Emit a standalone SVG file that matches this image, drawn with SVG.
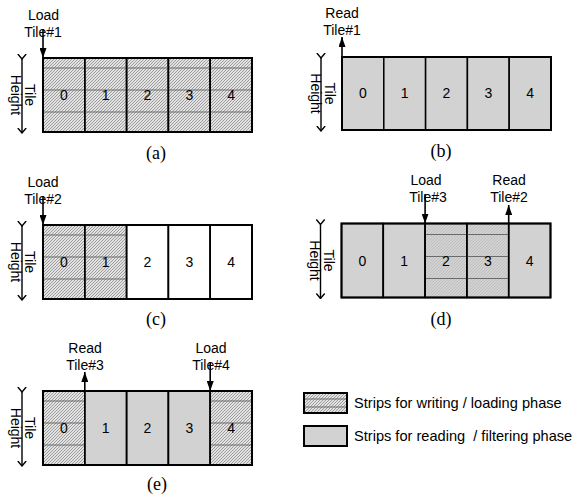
<svg xmlns="http://www.w3.org/2000/svg" width="574" height="500" viewBox="0 0 574 500">
  <defs>
    <!-- fine diagonal hatching used for strips being written / loaded -->
    <pattern id="hatch" patternUnits="userSpaceOnUse" width="3" height="3">
      <rect width="3" height="3" fill="#e2e2e2"/>
      <path d="M0,3 L3,0 M-1,1 L1,-1 M2,4 L4,2" stroke="#858585" stroke-width="0.75"/>
    </pattern>
    <marker id="head" viewBox="0 0 10 7" refX="10" refY="3.5" markerWidth="10" markerHeight="7" markerUnits="userSpaceOnUse" orient="auto">
      <path d="M0,0 L10,3.5 L0,7 Z" fill="#000"/>
    </marker>
    <marker id="chev" viewBox="0 0 6 10" refX="5.5" refY="5" markerWidth="6" markerHeight="10" markerUnits="userSpaceOnUse" orient="auto">
      <path d="M0.5,0.8 L5.5,5 L0.5,9.2" fill="none" stroke="#000" stroke-width="1.4"/>
    </marker>
  </defs>
  <style>
    text { font-family: "Liberation Sans", Arial, sans-serif; font-size: 14px; fill: #000; }
    .mid { text-anchor: middle; }
    .cap { font-family: "Liberation Serif", "Times New Roman", serif; font-size: 18px; text-anchor: middle; }
    .leg { font-size: 14.6px; }
    .hatch { fill: url(#hatch); }
    .gray { fill: #d2d2d2; }
    .white { fill: #ffffff; }
    .strip { stroke: #000; stroke-width: 1.5; }
    .grid { stroke: #6a6a6a; stroke-width: 1; }
    .frame { fill: none; stroke: #000; stroke-width: 2; }
    .arrow { stroke: #000; stroke-width: 1.6; fill: none; marker-end: url(#head); }
    .dim { stroke: #000; stroke-width: 1.4; fill: none; marker-start: url(#chev); marker-end: url(#chev); }
  </style>

  <!-- panel (a): all five strips loading -->
  <g id="panel-a" transform="translate(43,58)">
    <rect class="hatch strip" x="0" y="0" width="41.8" height="74"/>
    <rect class="hatch strip" x="41.8" y="0" width="41.8" height="74"/>
    <rect class="hatch strip" x="83.6" y="0" width="41.8" height="74"/>
    <rect class="hatch strip" x="125.4" y="0" width="41.8" height="74"/>
    <rect class="hatch strip" x="167.2" y="0" width="41.8" height="74"/>
    <path class="grid" d="M0,10 H209 M0,32 H209 M0,54 H209"/>
    <path class="strip" d="M41.8,0 V74 M83.6,0 V74 M125.4,0 V74 M167.2,0 V74"/>
    <rect class="frame" x="0" y="0" width="209" height="74"/>
    <text class="mid" x="20.9" y="42">0</text>
    <text class="mid" x="62.7" y="42">1</text>
    <text class="mid" x="104.5" y="42">2</text>
    <text class="mid" x="146.3" y="42">3</text>
    <text class="mid" x="188.1" y="42">4</text>
    <text class="mid" transform="translate(-18,37) rotate(90)">Tile</text>
    <text class="mid" transform="translate(-32,37) rotate(90)">Height</text>
    <text class="cap" x="113" y="101">(a)</text>
  </g>

  <!-- panel (b): all five strips reading -->
  <g id="panel-b" transform="translate(342,57)">
    <rect class="gray strip" x="0" y="0" width="41.8" height="73"/>
    <rect class="gray strip" x="41.8" y="0" width="41.8" height="73"/>
    <rect class="gray strip" x="83.6" y="0" width="41.8" height="73"/>
    <rect class="gray strip" x="125.4" y="0" width="41.8" height="73"/>
    <rect class="gray strip" x="167.2" y="0" width="41.8" height="73"/>
    <rect class="frame" x="0" y="0" width="209" height="73"/>
    <text class="mid" x="20.9" y="41">0</text>
    <text class="mid" x="62.7" y="41">1</text>
    <text class="mid" x="104.5" y="41">2</text>
    <text class="mid" x="146.3" y="41">3</text>
    <text class="mid" x="188.1" y="41">4</text>
    <text class="mid" transform="translate(-17,36.5) rotate(90)">Tile</text>
    <text class="mid" transform="translate(-31,36.5) rotate(90)">Height</text>
    <text class="cap" x="99" y="100">(b)</text>
  </g>

  <!-- panel (c): strips 0-1 loading, 2-4 empty -->
  <g id="panel-c" transform="translate(43,225)">
    <rect class="hatch strip" x="0" y="0" width="41.8" height="74"/>
    <rect class="hatch strip" x="41.8" y="0" width="41.8" height="74"/>
    <rect class="white strip" x="83.6" y="0" width="41.8" height="74"/>
    <rect class="white strip" x="125.4" y="0" width="41.8" height="74"/>
    <rect class="white strip" x="167.2" y="0" width="41.8" height="74"/>
    <path class="grid" d="M0,10 H83.6 M0,32 H83.6 M0,54 H83.6"/>
    <path class="strip" d="M41.8,0 V74 M83.6,0 V74 M125.4,0 V74 M167.2,0 V74"/>
    <rect class="frame" x="0" y="0" width="209" height="74"/>
    <text class="mid" x="20.9" y="42">0</text>
    <text class="mid" x="62.7" y="42">1</text>
    <text class="mid" x="104.5" y="42">2</text>
    <text class="mid" x="146.3" y="42">3</text>
    <text class="mid" x="188.1" y="42">4</text>
    <text class="mid" transform="translate(-18,37) rotate(90)">Tile</text>
    <text class="mid" transform="translate(-32,37) rotate(90)">Height</text>
    <text class="cap" x="113" y="100">(c)</text>
  </g>

  <!-- panel (d): strips 2-3 loading, others reading -->
  <g id="panel-d" transform="translate(341.5,223.5)">
    <rect class="gray strip" x="0" y="0" width="41.8" height="74"/>
    <rect class="gray strip" x="41.8" y="0" width="41.8" height="74"/>
    <rect class="hatch strip" x="83.6" y="0" width="41.8" height="74"/>
    <rect class="hatch strip" x="125.4" y="0" width="41.8" height="74"/>
    <rect class="gray strip" x="167.2" y="0" width="41.8" height="74"/>
    <path class="grid" d="M83.6,11 H167.2 M83.6,33 H167.2 M83.6,55 H167.2"/>
    <path class="strip" d="M41.8,0 V74 M83.6,0 V74 M125.4,0 V74 M167.2,0 V74"/>
    <rect class="frame" x="0" y="0" width="209" height="74"/>
    <text class="mid" x="20.9" y="42">0</text>
    <text class="mid" x="62.7" y="42">1</text>
    <text class="mid" x="104.5" y="42">2</text>
    <text class="mid" x="146.3" y="42">3</text>
    <text class="mid" x="188.1" y="42">4</text>
    <text class="mid" transform="translate(-18,37) rotate(90)">Tile</text>
    <text class="mid" transform="translate(-32,37) rotate(90)">Height</text>
    <text class="cap" x="99.5" y="101">(d)</text>
  </g>

  <!-- panel (e): strips 0 and 4 loading, 1-3 reading -->
  <g id="panel-e" transform="translate(43,391)">
    <rect class="hatch strip" x="0" y="0" width="41.8" height="74"/>
    <rect class="gray strip" x="41.8" y="0" width="41.8" height="74"/>
    <rect class="gray strip" x="83.6" y="0" width="41.8" height="74"/>
    <rect class="gray strip" x="125.4" y="0" width="41.8" height="74"/>
    <rect class="hatch strip" x="167.2" y="0" width="41.8" height="74"/>
    <path class="grid" d="M0,10 H41.8 M0,32 H41.8 M0,54 H41.8 M167.2,10 H209 M167.2,32 H209 M167.2,54 H209"/>
    <path class="strip" d="M41.8,0 V74 M83.6,0 V74 M125.4,0 V74 M167.2,0 V74"/>
    <rect class="frame" x="0" y="0" width="209" height="74"/>
    <text class="mid" x="20.9" y="42">0</text>
    <text class="mid" x="62.7" y="42">1</text>
    <text class="mid" x="104.5" y="42">2</text>
    <text class="mid" x="146.3" y="42">3</text>
    <text class="mid" x="188.1" y="42">4</text>
    <text class="mid" transform="translate(-18,37) rotate(90)">Tile</text>
    <text class="mid" transform="translate(-32,37) rotate(90)">Height</text>
    <text class="cap" x="114" y="99">(e)</text>
  </g>

  <!-- pointer labels -->
  <g id="labels">
    <text class="mid" x="43.5" y="20">Load</text>
    <text class="mid" x="43" y="37">Tile#1</text>
    <text class="mid" x="342" y="18">Read</text>
    <text class="mid" x="342" y="35">Tile#1</text>
    <text class="mid" x="43" y="187">Load</text>
    <text class="mid" x="43" y="204">Tile#2</text>
    <text class="mid" x="426" y="185">Load</text>
    <text class="mid" x="428" y="202">Tile#3</text>
    <text class="mid" x="509" y="185">Read</text>
    <text class="mid" x="509" y="202">Tile#2</text>
    <text class="mid" x="85" y="353">Read</text>
    <text class="mid" x="85" y="370">Tile#3</text>
    <text class="mid" x="211" y="353">Load</text>
    <text class="mid" x="211" y="370">Tile#4</text>
  </g>

  <!-- connectors: load/read pointers and tile-height dimension arrows -->
  <g id="connectors">
    <path class="arrow" d="M43,29 V58"/>
    <path class="arrow" d="M342,57 V37"/>
    <path class="arrow" d="M43,196 V225"/>
    <path class="arrow" d="M425.1,194 V223.5"/>
    <path class="arrow" d="M508.7,223.5 V205"/>
    <path class="arrow" d="M84.8,391 V372"/>
    <path class="arrow" d="M210.2,362 V391"/>
    <path class="dim" d="M22,59 V133"/>
    <path class="dim" d="M321,58 V131"/>
    <path class="dim" d="M22,226 V300"/>
    <path class="dim" d="M320.5,224.5 V298.5"/>
    <path class="dim" d="M22,392 V466"/>
  </g>

  <!-- legend -->
  <g id="legend">
    <rect class="hatch" x="304" y="393" width="43" height="20" stroke="#000" stroke-width="2"/>
    <path class="grid" d="M305,399 H346 M305,407 H346"/>
    <rect x="304" y="393" width="43" height="20" fill="none" stroke="#000" stroke-width="2"/>
    <text class="leg" x="354" y="408">Strips for writing / loading phase</text>
    <rect class="gray" x="304" y="426" width="43" height="20" stroke="#000" stroke-width="2"/>
    <text class="leg" x="354" y="441" xml:space="preserve">Strips for reading  / filtering phase</text>
  </g>
</svg>
